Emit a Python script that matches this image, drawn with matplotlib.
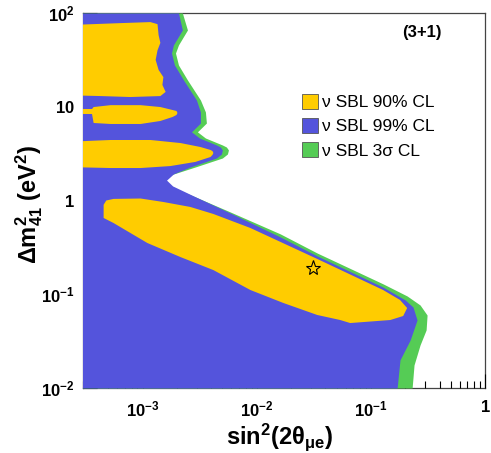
import matplotlib
matplotlib.use("Agg")
from matplotlib import pyplot as plt
from matplotlib.patches import Patch
from matplotlib.ticker import FixedLocator, FixedFormatter, NullFormatter, LogLocator

plt.rcParams['font.family'] = ['Liberation Sans', 'DejaVu Sans']
plt.rcParams['mathtext.fontset'] = 'custom'
plt.rcParams['mathtext.rm'] = 'Liberation Sans'
plt.rcParams['mathtext.it'] = 'Liberation Sans:italic'
plt.rcParams['mathtext.bf'] = 'Liberation Sans:bold'

# Colours
YELLOW = '#FFCC00'
BLUE = '#5454DC'
GREEN = '#55CC55'

# 3 sigma contour: right edge of the allowed region
green_dm2 = [100, 65.9, 45.6, 37.4, 27.9, 19.3, 11.8, 8.8, 6.7, 5.4, 4.64, 3.91, 3.72,
             3.46, 3.13, 2.84, 2.28, 1.87, 1.65, 1.43, 1.15, 0.754, 0.44, 0.275, 0.129,
             0.0958, 0.0768, 0.060, 0.0416, 0.0288, 0.0176, 0.01]
green_sin2 = [2.23e-3, 2.47e-3, 2.06e-3, 1.94e-3, 2.06e-3, 2.47e-3, 3.21e-3, 3.55e-3,
              3.62e-3, 3.02e-3, 3.55e-3, 5.0e-3, 5.42e-3, 5.65e-3, 5.53e-3, 5.0e-3,
              2.90e-3, 1.75e-3, 1.49e-3, 1.69e-3, 2.62e-3, 5.87e-3, 1.61e-2, 3.39e-2,
              0.128, 0.208, 0.270, 0.311, 0.305, 0.270, 0.239, 0.230]

# 99% CL contour
blue_dm2 = [100, 65.9, 45.6, 37.4, 27.9, 19.3, 11.8, 8.8, 6.7, 5.4, 4.64, 3.91, 3.72,
            3.46, 3.13, 2.84, 2.28, 1.92, 1.65, 1.43, 1.12, 0.718, 0.408, 0.256, 0.119,
            0.0869, 0.0731, 0.0531, 0.0325, 0.0199, 0.01]
blue_sin2 = [2.06e-3, 2.23e-3, 1.86e-3, 1.79e-3, 1.90e-3, 2.28e-3, 2.96e-3, 3.21e-3,
             3.21e-3, 2.68e-3, 3.15e-3, 4.43e-3, 4.80e-3, 5.0e-3, 4.90e-3, 4.43e-3,
             2.62e-3, 1.86e-3, 1.62e-3, 1.83e-3, 2.79e-3, 6.12e-3, 1.61e-2, 3.39e-2,
             0.128, 0.200, 0.234, 0.254, 0.221, 0.180, 0.170]

# 90% CL islands
isl1_sin2 = [2e-4, 6.4e-4, 1.17e-3, 1.35e-3, 1.38e-3, 1.43e-3, 1.35e-3, 1.30e-3, 1.38e-3,
             1.52e-3, 1.49e-3, 1.59e-3, 1.43e-3, 7.8e-4, 4.3e-4, 2e-4]
isl1_dm2 = [74, 78, 80, 76, 58, 48, 40, 31.6, 24.7, 20.7, 17.1, 14.4, 13.0, 12.7, 13.0, 13.3]

isl2_sin2 = [2e-4, 3.6e-4, 3.72e-4, 5.24e-4, 9.6e-4, 1.43e-3, 1.83e-3, 1.98e-3, 2.02e-3,
             1.98e-3, 1.83e-3, 1.43e-3, 9.6e-4, 5.24e-4, 3.72e-4, 3.6e-4, 2e-4]
isl2_dm2 = [9.46, 9.46, 9.93, 10.4, 10.4, 9.93, 9.23, 9.01, 8.58, 8.17, 7.78, 7.05, 6.55,
            6.55, 6.71, 8.37, 8.37]

isl3_sin2 = [2e-4, 5.24e-4, 1.17e-3, 2.15e-3, 3.21e-3, 3.93e-3, 4.09e-3, 4.17e-3, 4.09e-3,
             3.93e-3, 2.90e-3, 1.75e-3, 9.6e-4, 5.24e-4, 2e-4]
isl3_dm2 = [4.21, 4.42, 4.42, 4.10, 3.72, 3.46, 3.37, 3.21, 3.06, 2.91, 2.58, 2.33, 2.22,
            2.22, 2.28]

isl4_sin2 = [4.55e-4, 4.8e-4, 5.56e-4, 9.6e-4, 1.52e-3, 2.62e-3, 4.17e-3, 8.79e-3, 3.39e-2,
             0.128, 0.180, 0.208, 0.192, 0.148, 0.0659, 0.0539, 0.0339, 0.0171, 8.79e-3,
             4.17e-3, 2.15e-3, 1.10e-3, 5.56e-4, 4.55e-4]
isl4_dm2 = [0.90, 1.0, 1.04, 1.05, 0.964, 0.853, 0.718, 0.509, 0.238, 0.111, 0.0869,
            0.0713, 0.0586, 0.0531, 0.0493, 0.0531, 0.0601, 0.0807, 0.111, 0.181, 0.249,
            0.352, 0.575, 0.651]

# Best fit point
best_sin2 = 0.031
best_dm2 = 0.19

# Tick labels
xtick_vals = [1e-3, 1e-2, 1e-1, 1]
xtick_labels = [r'$\mathbf{10^{-3}}$', r'$\mathbf{10^{-2}}$', r'$\mathbf{10^{-1}}$', r'$\mathbf{1}$']
ytick_vals = [1e-2, 1e-1, 1, 10, 100]
ytick_labels = [r'$\mathbf{10^{-2}}$', r'$\mathbf{10^{-1}}$', r'$\mathbf{1}$', r'$\mathbf{10}$',
                r'$\mathbf{10^{2}}$']

legend_labels = ['ν SBL 90% CL', 'ν SBL 99% CL', 'ν SBL 3σ CL']

# Figure
fig = plt.figure(figsize=(4.91, 4.53), dpi=100)
ax = fig.add_axes([0.169, 0.1435, 0.8187, 0.8278])
ax.set_xscale('log')
ax.set_yscale('log')
ax.set_xlim(3e-4, 1)
ax.set_ylim(1e-2, 1e2)

# Regions
ax.fill_betweenx(green_dm2, 1e-4, green_sin2, color=GREEN, lw=0, zorder=1)
ax.fill_betweenx(blue_dm2, 1e-4, blue_sin2, color=BLUE, lw=0, zorder=2)
for xs, ys in [(isl1_sin2, isl1_dm2), (isl2_sin2, isl2_dm2), (isl3_sin2, isl3_dm2),
               (isl4_sin2, isl4_dm2)]:
    ax.fill(xs, ys, color=YELLOW, lw=0, zorder=3)

ax.plot(best_sin2, best_dm2, marker='*', ms=11, mfc='none', mec='black', mew=0.8, zorder=4)

# Axes below the fills
ax.set_axisbelow(True)
for s in ax.spines.values():
    s.set_zorder(0.5)
    s.set_color('#444444')
    s.set_linewidth(0.9)

# Ticks
ax.xaxis.set_major_locator(FixedLocator(xtick_vals))
ax.xaxis.set_major_formatter(FixedFormatter(xtick_labels))
ax.xaxis.set_minor_locator(LogLocator(base=10, subs=range(2, 10)))
ax.xaxis.set_minor_formatter(NullFormatter())
ax.yaxis.set_major_locator(FixedLocator(ytick_vals))
ax.yaxis.set_major_formatter(FixedFormatter(ytick_labels))
ax.yaxis.set_minor_formatter(NullFormatter())
ax.tick_params(which='both', direction='in', top=False, right=False, labelsize=12)
ax.tick_params(which='major', length=10, width=0.8)
ax.tick_params(which='minor', length=5, width=0.8)
ax.tick_params(axis='x', pad=8)
ax.tick_params(axis='y', pad=6)

# Labels
ax.set_xlabel(r'$\mathbf{sin^2(2\theta_{\mu e})}$', fontsize=17)
ax.set_ylabel(r'$\mathbf{\Delta m^2_{41}\ (eV^2)}$', fontsize=17)
ax.xaxis.set_label_coords(0.49, -0.088)
ax.yaxis.set_label_coords(-0.095, 0.49)

ax.text(0.843, 0.947, '(3+1)', transform=ax.transAxes, fontsize=12, fontweight='bold',
        ha='center', va='center')

# Legend
handles = [Patch(facecolor=c, edgecolor='#555555', lw=0.6) for c in (YELLOW, BLUE, GREEN)]
ax.legend(handles, legend_labels, loc='upper left', bbox_to_anchor=(0.545, 0.785),
          frameon=False, fontsize=12.5, handlelength=0.9, handleheight=0.95,
          handletextpad=0.25, labelspacing=0.45, borderpad=0, borderaxespad=0)

fig.savefig('out.png', dpi=100)
